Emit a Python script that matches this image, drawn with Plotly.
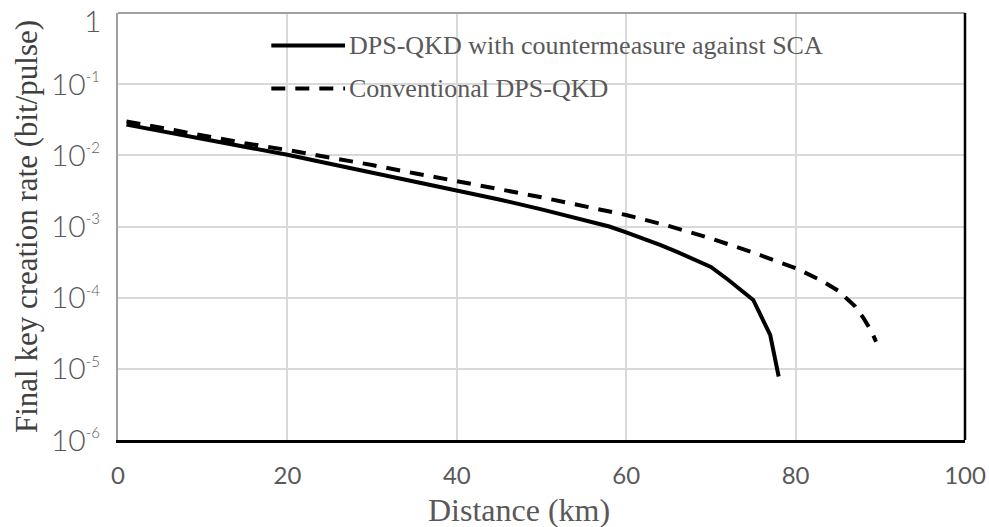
import plotly.graph_objects as go

# Data (distance in km, final key rate in bit/pulse)
km_sca = [1, 5, 10, 15, 20, 25, 30, 35, 40, 45, 50, 55, 58, 60, 62, 64, 66, 68, 70, 72, 75, 77, 78]
rate_sca = [2.7e-2, 2.2e-2, 1.7e-2, 1.32e-2, 1.02e-2, 7.6e-3, 5.7e-3, 4.3e-3, 3.2e-3,
            2.4e-3, 1.74e-3, 1.23e-3, 1.0e-3, 8.3e-4, 6.8e-4, 5.5e-4, 4.4e-4, 3.5e-4,
            2.7e-4, 1.8e-4, 9.3e-5, 3.0e-5, 7.8e-6]

km_conv = [1, 5, 10, 15, 20, 25, 30, 35, 40, 45, 50, 55, 60, 65, 70, 75, 80, 83, 85, 87, 88, 89, 89.5]
rate_conv = [3.0e-2, 2.45e-2, 1.9e-2, 1.48e-2, 1.19e-2, 9.4e-3, 7.3e-3, 5.6e-3, 4.4e-3,
             3.35e-3, 2.57e-3, 1.95e-3, 1.45e-3, 1.02e-3, 6.8e-4, 4.3e-4, 2.6e-4,
             1.75e-4, 1.26e-4, 7.6e-5, 5.2e-5, 3.3e-5, 2.4e-5]

series_names = ["DPS-QKD with countermeasure against SCA", "Conventional DPS-QKD"]

y_tickvals = [1e-1, 1e-2, 1e-3, 1e-4, 1e-5, 1e-6]
y_exponents = ["-1", "-2", "-3", "-4", "-5", "-6"]
y_top_label = "1"
x_tickvals = [0, 20, 40, 60, 80, 100]
x_title = "Distance (km)"
y_title = "Final key creation rate (bit/pulse)"

y_ticktext = ['10<sup><span style="font-size:15px">%s</span></sup>' % e for e in y_exponents]

GRAY = "#595959"
SERIF = "Liberation Serif, DejaVu Serif, serif"
SANS = "Lato, Roboto, Noto Sans, sans-serif"
NARROW = "Liberation Sans Narrow, Lato, sans-serif"

fig = go.Figure()
fig.add_trace(go.Scatter(x=km_sca, y=rate_sca, mode="lines", name=series_names[0],
                         line=dict(color="black", width=4), showlegend=False))
fig.add_trace(go.Scatter(x=km_conv, y=rate_conv, mode="lines", name=series_names[1],
                         line=dict(color="black", width=4, dash="14px,10px"), showlegend=False))

# custom legend (line samples + labels) inside the plot area
legend_rows = [(0.924, "solid"), (0.823, "14px,10px")]
for (yp, dash), name in zip(legend_rows, series_names):
    fig.add_shape(type="line", xref="paper", yref="paper", x0=0.181, x1=0.268, y0=yp, y1=yp,
                  line=dict(color="black", width=4, dash=dash))
    fig.add_annotation(xref="paper", yref="paper", x=0.270, y=yp, text=name, showarrow=False,
                       xanchor="left", yanchor="middle",
                       font=dict(family=SERIF, size=26, color=GRAY))

# top tick label "1" (nudged down so it stays inside the page, as in the original)
fig.add_annotation(xref="paper", yref="paper", x=0, y=1, text=y_top_label, showarrow=False,
                   xanchor="right", yanchor="middle", xshift=-15, yshift=-7,
                   font=dict(family=SANS, size=30, color=GRAY, weight=300))

# x-axis title (slightly left of plot centre, as in the original)
fig.add_annotation(xref="paper", yref="paper", x=0.473, y=0, text=x_title, showarrow=False,
                   xanchor="center", yanchor="middle", yshift=-70,
                   font=dict(family=SERIF, size=32, color=GRAY))

# frame: top gray, right black
fig.add_shape(type="line", xref="paper", yref="paper", x0=0, x1=1, y0=1, y1=1,
              line=dict(color="#a0a0a0", width=2))
fig.add_shape(type="line", xref="paper", yref="paper", x0=1, x1=1, y0=0, y1=1,
              line=dict(color="black", width=2.5))

fig.update_xaxes(range=[0, 100], tickvals=x_tickvals, showgrid=True, gridcolor="#d9d9d9",
                 gridwidth=1.5, showline=True, linecolor="black", linewidth=3,
                 zeroline=False, ticks="", ticklabelstandoff=12, automargin=False,
                 ticklabeloverflow="allow",
                 tickfont=dict(family=NARROW, size=24, color=GRAY))
fig.update_yaxes(type="log", range=[-6, 0], tickvals=y_tickvals, ticktext=y_ticktext,
                 showgrid=True, gridcolor="#d9d9d9", gridwidth=1.5,
                 showline=True, linecolor="#a0a0a0", linewidth=2, zeroline=False, ticks="",
                 ticklabelstandoff=10, automargin=False, ticklabeloverflow="allow",
                 tickfont=dict(family=SANS, size=30, color=GRAY, weight=300),
                 title=dict(text=y_title,
                            font=dict(family=SERIF, size=31, color="#404040"), standoff=4))

fig.update_layout(width=989, height=527, margin=dict(l=118, r=24, t=13, b=87),
                  plot_bgcolor="white", paper_bgcolor="white")

fig.write_html("out.html")
